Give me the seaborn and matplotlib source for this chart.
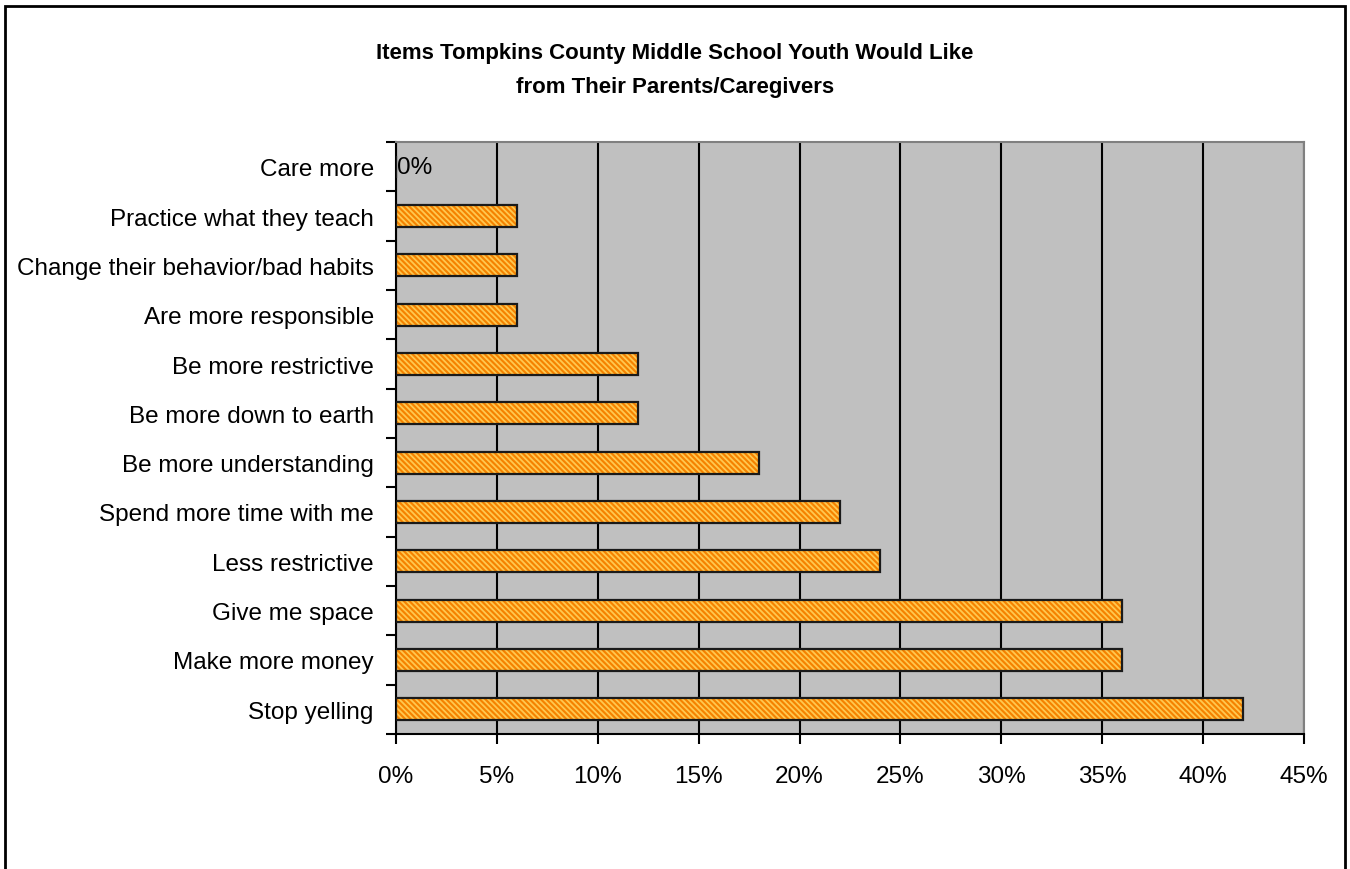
import matplotlib
matplotlib.use("Agg")
import matplotlib.pyplot as plt
import seaborn as sns
import pandas as pd
import numpy as np
from matplotlib.patches import Rectangle
from matplotlib.ticker import FuncFormatter, MultipleLocator

categories = [
    "Care more",
    "Practice what they teach",
    "Change their behavior/bad habits",
    "Are more responsible",
    "Be more restrictive",
    "Be more down to earth",
    "Be more understanding",
    "Spend more time with me",
    "Less restrictive",
    "Give me space",
    "Make more money",
    "Stop yelling",
]
values = [0, 6, 6, 6, 12, 12, 18, 22, 24, 36, 36, 42]
title_lines = ["Items Tompkins County Middle School Youth Would Like",
               "from Their Parents/Caregivers"]

df = pd.DataFrame({"item": categories, "pct": values})

sns.set_theme(style="white")
plt.rcParams["font.family"] = ["Liberation Sans", "DejaVu Sans"]
plt.rcParams["hatch.linewidth"] = 1.3

fig = plt.figure(figsize=(13.5, 8.7), dpi=100)
ax = fig.add_axes([396 / 1350, 1 - 735 / 870, (1304 - 396) / 1350, (735 - 143) / 870])
ax.set_facecolor("#C0C0C0")

# hatched fill
sns.barplot(data=df, x="pct", y="item", orient="h", ax=ax, color="#F58200",
            saturation=1, width=0.45, edgecolor="#FFC850", linewidth=0,
            hatch="\\\\\\\\\\\\", zorder=3)
# outline
sns.barplot(data=df, x="pct", y="item", orient="h", ax=ax, fill=False,
            width=0.45, edgecolor="#1a1a1a", linewidth=1.6, zorder=4)

ax.set_xlim(0, 45)
ax.set_ylim(len(categories) - 0.5, -0.5)
ax.xaxis.set_major_locator(MultipleLocator(5))
ax.xaxis.set_major_formatter(FuncFormatter(lambda v, p: f"{v:.0f}%"))
ax.grid(axis="x", color="black", linewidth=1.5, zorder=1)
ax.set_axisbelow(True)
ax.set_xlabel("")
ax.set_ylabel("")

# y ticks: labels at centers, tick marks at boundaries
ax.set_yticks(range(len(categories)))
ax.set_yticklabels(categories)
ax.set_yticks(np.arange(-0.5, len(categories), 1.0), minor=True)
ax.tick_params(axis="y", which="major", length=0, pad=16, labelsize=17.5, labelcolor="black")
ax.tick_params(axis="y", which="minor", left=True, length=7, width=1.5, color="black")
ax.tick_params(axis="x", which="major", bottom=True, length=7, width=1.5, color="black",
               labelsize=17.5, labelcolor="black", pad=15)

for side in ["left", "bottom"]:
    ax.spines[side].set_color("black")
    ax.spines[side].set_linewidth(1.5)
for side in ["top", "right"]:
    ax.spines[side].set_color("#808080")
    ax.spines[side].set_linewidth(1.5)

# data label for zero bar
for i, v in enumerate(values):
    if v == 0:
        ax.text(v + 0.05, i, f"{v}%", ha="left", va="center", fontsize=17.5, color="black", zorder=5)

fig.text(0.5, 1 - 53 / 870, title_lines[0], ha="center", va="center",
         fontsize=16, fontweight="bold", color="black")
fig.text(0.5, 1 - 87 / 870, title_lines[1], ha="center", va="center",
         fontsize=16, fontweight="bold", color="black")

fig.patches.append(Rectangle((5 / 1350, -0.01), 1340 / 1350, 1 - 7 / 870 + 0.01,
                             transform=fig.transFigure, fill=False,
                             edgecolor="black", linewidth=2))

fig.savefig("out.png", dpi=100)
